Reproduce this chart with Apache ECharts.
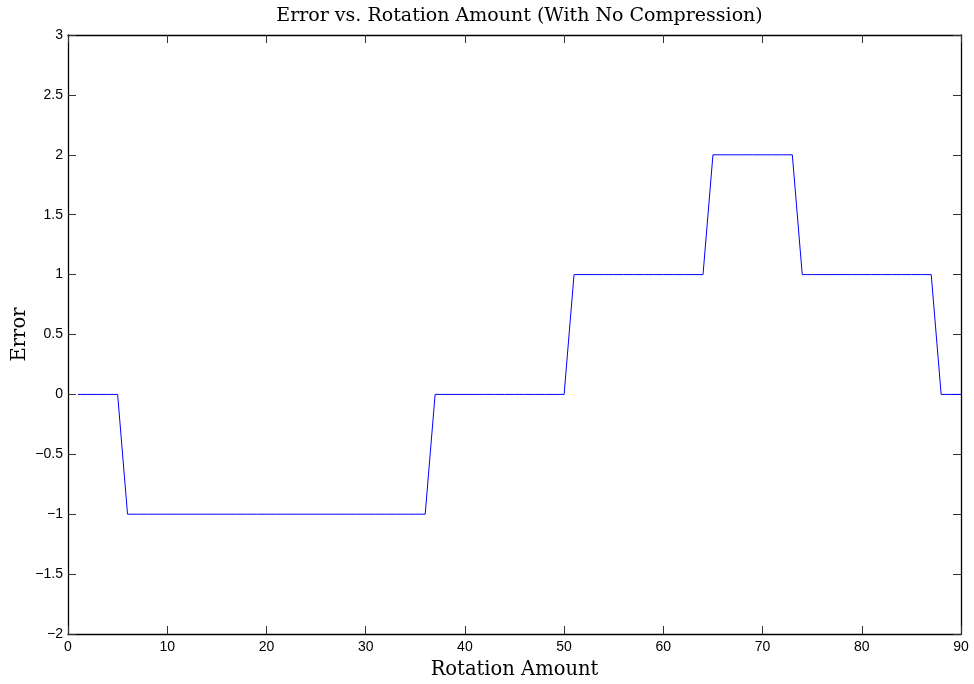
<!DOCTYPE html>
<html>
<head>
<meta charset="utf-8">
<script src="https://cdn.jsdelivr.net/npm/echarts@6/dist/echarts.min.js"></script>
<style>
  html, body { margin: 0; padding: 0; background: #fff; }
  #chart { width: 974px; height: 684px; }
</style>
</head>
<body>
<div id="chart"></div>
<script>
// Rotation amounts (degrees) and the resulting error, no compression
const rotation = [
  1, 2, 3, 4, 5, 6, 7, 8, 9, 10,
  11, 12, 13, 14, 15, 16, 17, 18, 19, 20,
  21, 22, 23, 24, 25, 26, 27, 28, 29, 30,
  31, 32, 33, 34, 35, 36, 37, 38, 39, 40,
  41, 42, 43, 44, 45, 46, 47, 48, 49, 50,
  51, 52, 53, 54, 55, 56, 57, 58, 59, 60,
  61, 62, 63, 64, 65, 66, 67, 68, 69, 70,
  71, 72, 73, 74, 75, 76, 77, 78, 79, 80,
  81, 82, 83, 84, 85, 86, 87, 88, 89, 90
];
const errorValues = [
  0, 0, 0, 0, 0, -1, -1, -1, -1, -1,
  -1, -1, -1, -1, -1, -1, -1, -1, -1, -1,
  -1, -1, -1, -1, -1, -1, -1, -1, -1, -1,
  -1, -1, -1, -1, -1, -1, 0, 0, 0, 0,
  0, 0, 0, 0, 0, 0, 0, 0, 0, 0,
  1, 1, 1, 1, 1, 1, 1, 1, 1, 1,
  1, 1, 1, 1, 2, 2, 2, 2, 2, 2,
  2, 2, 2, 1, 1, 1, 1, 1, 1, 1,
  1, 1, 1, 1, 1, 1, 1, 0, 0, 0
];
const xTicks = [0, 10, 20, 30, 40, 50, 60, 70, 80, 90];
const yTicks = [-2, -1.5, -1, -0.5, 0, 0.5, 1, 1.5, 2, 2.5, 3];

const points = rotation.map((r, i) => [r, errorValues[i]]);
const minus = v => String(v).replace('-', '\u2212');

const axisLine = { show: true, onZero: false, lineStyle: { color: '#000', width: 1.3 } };
const tick = { show: true, inside: true, length: 8, lineStyle: { color: '#333', width: 1 } };
const labelFont = { fontFamily: 'Liberation Sans, Arial, sans-serif', fontSize: 14, color: '#000' };
const serif = 'DejaVu Serif, Liberation Serif, serif';

const chart = echarts.init(document.getElementById('chart'), null, { renderer: 'canvas' });
chart.setOption({
  animation: false,
  backgroundColor: '#fff',
  title: {
    text: 'Error vs. Rotation Amount (With No Compression)',
    left: 514.5,
    top: 2,
    textAlign: 'center',
    textStyle: { fontFamily: serif, fontSize: 19, fontWeight: 'normal', color: '#000' }
  },
  grid: { left: 68, right: 13, top: 35, bottom: 50, containLabel: false, outerBoundsMode: 'none' },
  xAxis: [
    {
      type: 'value', position: 'bottom', min: xTicks[0], max: xTicks[xTicks.length - 1], interval: 10,
      name: 'Rotation Amount', nameLocation: 'middle', nameGap: 26, nameMoveOverlap: false,
      nameTextStyle: { fontFamily: serif, fontSize: 19.5, color: '#000' },
      axisLine, axisTick: tick, splitLine: { show: false },
      axisLabel: Object.assign({ margin: 6, formatter: minus }, labelFont)
    },
    {
      type: 'value', position: 'top', min: xTicks[0], max: xTicks[xTicks.length - 1], interval: 10,
      axisLine, axisTick: tick, splitLine: { show: false }, axisLabel: { show: false }
    }
  ],
  yAxis: [
    {
      type: 'value', position: 'left', min: yTicks[0], max: yTicks[yTicks.length - 1], interval: 0.5,
      name: 'Error', nameLocation: 'middle', nameGap: 38, nameMoveOverlap: false,
      nameTextStyle: { fontFamily: serif, fontSize: 19.5, color: '#000' },
      axisLine, axisTick: tick, splitLine: { show: false },
      axisLabel: Object.assign({ margin: 5, formatter: minus }, labelFont)
    },
    {
      type: 'value', position: 'right', min: yTicks[0], max: yTicks[yTicks.length - 1], interval: 0.5,
      axisLine, axisTick: tick, splitLine: { show: false }, axisLabel: { show: false }
    }
  ],
  series: [
    {
      type: 'line',
      data: points,
      xAxisIndex: 0,
      yAxisIndex: 0,
      showSymbol: false,
      lineStyle: { color: '#0000ff', width: 1 }
    }
  ]
});
</script>
</body>
</html>
